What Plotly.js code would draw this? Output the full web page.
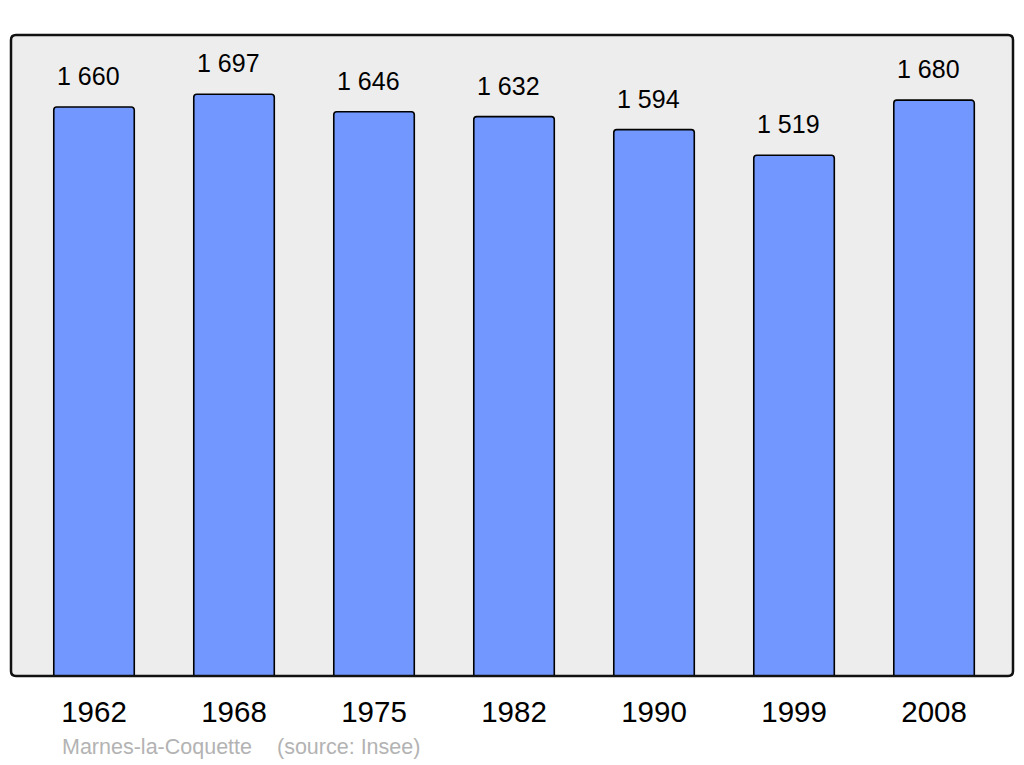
<!DOCTYPE html>
<html>
<head>
<meta charset="utf-8">
<script src="https://cdn.plot.ly/plotly-3.0.1.min.js"></script>
<style>html,body{margin:0;padding:0;background:#fff;}#chart{width:1024px;height:765px;}</style>
</head>
<body>
<div id="chart"></div>
<script>
const years = ['1962', '1968', '1975', '1982', '1990', '1999', '2008'];
const population = [1660, 1697, 1646, 1632, 1594, 1519, 1680];
const valueLabels = ['1 660', '1 697', '1 646', '1 632', '1 594', '1 519', '1 680'];
const footerName = 'Marnes-la-Coquette';
const footerSource = '(source: Insee)';

const W = 1024, H = 765;
const L = 11, R = 11, T = 35, B = 89;
const pw = W - L - R, ph = H - T - B;
function px(x) { return (x - L) / pw; }
function py(y) { return (H - B - y) / ph; }

// rounded frame path in paper coords
const r = 5;
const x0 = 11, x1 = 1013, y0 = 35, y1 = 676;
const rx = r / pw, ry = r / ph;
const framePath = `M ${px(x0)+rx},${py(y0)} L ${px(x1)-rx},${py(y0)} Q ${px(x1)},${py(y0)} ${px(x1)},${py(y0)-ry} ` +
  `L ${px(x1)},${py(y1)+ry} Q ${px(x1)},${py(y1)} ${px(x1)-rx},${py(y1)} ` +
  `L ${px(x0)+rx},${py(y1)} Q ${px(x0)},${py(y1)} ${px(x0)},${py(y1)+ry} ` +
  `L ${px(x0)},${py(y0)-ry} Q ${px(x0)},${py(y0)} ${px(x0)+rx},${py(y0)} Z`;

const font = 'Liberation Sans, Arial, sans-serif';

const annotations = years.map((y, i) => ({
  x: i, y: population[i], xref: 'x', yref: 'y',
  text: valueLabels[i], showarrow: false,
  yanchor: 'bottom', yshift: 15, xshift: -6,
  font: { family: font, size: 25, color: '#000' }
}));
annotations.push({
  x: px(60), y: py(747), xref: 'paper', yref: 'paper', xanchor: 'left', yanchor: 'middle',
  text: footerName, showarrow: false, font: { family: font, size: 21.5, color: '#b3b3b3' }
});
annotations.push({
  x: px(275), y: py(747), xref: 'paper', yref: 'paper', xanchor: 'left', yanchor: 'middle',
  text: footerSource, showarrow: false, font: { family: font, size: 21.5, color: '#b3b3b3' }
});

Plotly.newPlot('chart', [{
  type: 'bar',
  x: years,
  y: population,
  width: 0.575,
  marker: { color: '#7298ff', line: { color: '#000', width: 1.6 } },
  hoverinfo: 'none'
}], {
  width: W, height: H,
  margin: { l: L, r: R, t: T, b: B, pad: 0 },
  paper_bgcolor: '#ffffff',
  plot_bgcolor: '#ededed',
  barcornerradius: 3,
  showlegend: false,
  xaxis: {
    type: 'category',
    range: [-0.593, 6.564],
    showgrid: false, zeroline: false, showline: false,
    ticks: '', ticklabelstandoff: 15,
    tickfont: { family: font, size: 29.5, color: '#000' }
  },
  yaxis: {
    range: [0, 1870],
    showgrid: false, zeroline: false, showline: false,
    showticklabels: false, ticks: ''
  },
  shapes: [{
    type: 'path', xref: 'paper', yref: 'paper', path: framePath,
    line: { color: '#111', width: 2.5 }, fillcolor: 'rgba(0,0,0,0)', layer: 'above'
  }],
  annotations: annotations
}, { displayModeBar: false, staticPlot: true });
</script>
</body>
</html>
